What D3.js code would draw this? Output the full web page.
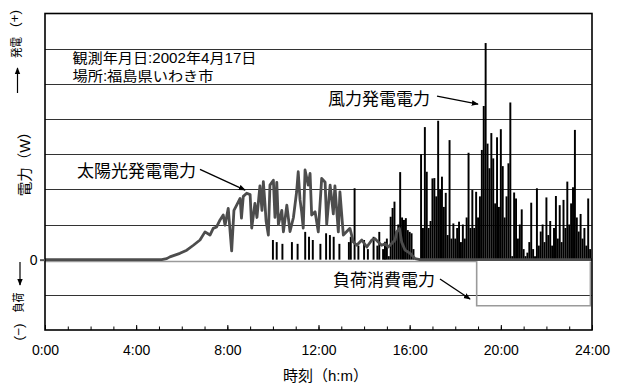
<!DOCTYPE html>
<meta charset="utf-8">
<style>
body { margin: 0; background: #fff; }
text { font-family: "Liberation Sans", "Noto Sans CJK JP", sans-serif; fill: #000; }
</style>
<body>
<script src="https://cdn.jsdelivr.net/npm/d3@7"></script>
<script>

// solar power: [hour, value in grid units]
var solar = [
  [0,0],[5.12,0],[5.34,0.03],[5.48,0.08],[5.92,0.18],[6.22,0.27],[6.51,0.41],[6.80,0.56],
  [7.02,0.79],[7.24,0.7],[7.38,0.89],[7.53,0.93],[7.68,1.13],[7.82,1.27],[7.90,0.98],[8.04,1.46],
  [8.19,0.25],[8.29,1.4],[8.41,1.55],[8.56,1.74],[8.62,1.18],[8.70,1.8],[8.85,1.89],[9.00,1.85],
  [9.07,0.9],[9.21,1.6],[9.30,1.2],[9.43,2.1],[9.52,1.4],[9.58,2.22],[9.65,1.6],[9.70,1.1],
  [9.80,0.7],[9.87,2.12],[10.02,2.26],[10.09,1.2],[10.17,2.2],[10.24,1.0],[10.39,1.4],[10.46,0.79],
  [10.61,1.55],[10.75,0.8],[10.90,1.2],[11.04,1.93],[11.11,2.5],[11.19,1.7],[11.26,1.36],[11.33,0.9],
  [11.41,2.55],[11.55,2.12],[11.63,2.45],[11.70,1.27],[11.85,1.36],[11.99,0.79],[12.14,2.31],[12.29,2.2],
  [12.36,1.0],[12.51,2.12],[12.65,1.3],[12.72,2.1],[12.87,0.79],[12.94,1.93],[13.09,0.7],[13.24,0.8],
  [13.38,0.89],[13.53,0.5],[13.68,0.41],[13.90,0.56],[14.12,0.36],[14.34,0.56],[14.48,0.6],[14.62,0.5],
  [14.77,0.41],[14.92,0.45],[15.06,0.36],[15.21,0.46],[15.36,0.56],[15.43,0.79],[15.55,0.89],[15.65,0.5],
  [15.80,0.27],[16.02,0.18],[16.24,0.03],[16.45,0],[24,0]
];

// wind power, one value every 5 minutes from 10:00 to 24:00
var windStart = 10;
var windStepMin = 5;
var wind = [
  0.56,0,0.5,0,0,0.45,0,0,0,0,0.5,0,
  0,0.45,0,0,0,0.79,0,0.65,0,0.56,0,0,
  0,0.45,0,0,0.75,0,0.7,0,0.65,0,0,0.45,
  0,0,0,0,0.5,0.65,0,2.03,0,0.4,0,0,
  0.56,0,0.3,0,0,0.65,0,0.4,0.79,0,0.3,0.51,
  0.6,0.1,1.22,1.47,1.65,0.8,1.0,2.49,1.2,1.13,1.18,0.84,
  0.79,0.75,0.3,0,0,0,3.0,0.9,3.77,2.5,0.9,1.1,
  2.31,2.32,1.8,3.95,2.0,2.36,1.5,1.9,0.7,3.4,0.6,1.03,
  0.6,0.9,1.08,0.5,1.0,0.6,1.2,3.04,0.9,1.98,0.9,1.93,
  1.2,1.8,3.12,4.37,6.16,3.3,2.6,3.6,2.88,1.6,3.48,1.5,
  3.71,2.66,1.2,1.8,2.74,4.47,0.1,1.91,1.74,0.6,1.0,1.43,
  0.3,0.1,0.2,0.5,1.62,0.3,0.1,2.03,0.4,0.8,1.0,0.5,
  1.77,0.7,1.1,0.4,0.9,1.81,0.6,1.55,0.5,1.7,0.9,2.22,
  1.0,1.6,2.06,3.69,1.2,0.8,1.3,0.6,0.9,0.4,1.74,0.3,
  0
];

// load consumption
var loadTime  = [0, 18.94, 18.94, 23.93, 23.93];
var loadPower = [-0.05, -0.05, -1.31, -1.31, -0.05];

var hourTicks  = [0,1,2,3,4,5,6,7,8,9,10,11,12,13,14,15,16,17,18,19,20,21,22,23,24];
var majorTicks = [0,4,8,12,16,20,24];
var tickLabels = ["0:00","4:00","8:00","12:00","16:00","20:00","24:00"];
var gridValues = [-1,1,2,3,4,5,6];

var width = 627, height = 383;
var margin = {left: 45, top: 13.5, right: 35, bottom: 53};

var x = d3.scaleLinear().domain([0, 24]).range([margin.left, width - margin.right]);
var y = d3.scaleLinear().domain([-2, 7]).range([height - margin.bottom, margin.top]);

var svg = d3.select("body").append("svg")
    .attr("width", width)
    .attr("height", height)
    .style("background", "#fff");

var defs = svg.append("defs");
defs.append("marker")
    .attr("id", "head")
    .attr("viewBox", "0 0 10 10")
    .attr("refX", 9).attr("refY", 5)
    .attr("markerWidth", 7).attr("markerHeight", 7)
    .attr("markerUnits", "userSpaceOnUse")
    .attr("orient", "auto")
  .append("path")
    .attr("d", "M0,1L10,5L0,9Z")
    .attr("fill", "#000");

// grid
svg.append("g").selectAll("line")
    .data(gridValues)
  .enter().append("line")
    .attr("x1", x(0)).attr("x2", x(24))
    .attr("y1", function(d) { return Math.round(y(d)) + 0.5; })
    .attr("y2", function(d) { return Math.round(y(d)) + 0.5; })
    .attr("stroke", "#333")
    .attr("stroke-width", 1);

// wind: vertical strokes, one per sample
var windPts = wind.map(function(v, i) { return [windStart + i * windStepMin / 60, v]; });
svg.append("g").selectAll("line")
    .data(windPts.filter(function(d) { return d[1] > 0; }))
  .enter().append("line")
    .attr("x1", function(d) { return x(d[0]); })
    .attr("x2", function(d) { return x(d[0]); })
    .attr("y1", y(0))
    .attr("y2", function(d) { return y(d[1]); })
    .attr("stroke", "#000")
    .attr("stroke-width", 1.95);

// load
svg.append("path")
    .datum(loadTime.map(function(t, i) { return [t, loadPower[i]]; }))
    .attr("d", d3.line()
        .x(function(d) { return x(d[0]); })
        .y(function(d) { return y(d[1]); }))
    .attr("fill", "none")
    .attr("stroke", "#9a9a9a")
    .attr("stroke-width", 1.6);

// solar
svg.append("path")
    .datum(solar)
    .attr("d", d3.line()
        .x(function(d) { return x(d[0]); })
        .y(function(d) { return y(d[1]); }))
    .attr("fill", "none")
    .attr("stroke", "#4d4d4d")
    .attr("stroke-width", 2.8)
    .attr("stroke-linejoin", "round");

// frame
svg.append("rect")
    .attr("x", x(0)).attr("y", y(7))
    .attr("width", x(24) - x(0))
    .attr("height", y(-2) - y(7))
    .attr("fill", "none")
    .attr("stroke", "#000")
    .attr("stroke-width", 1.6);

// x axis
var gx = svg.append("g")
    .attr("transform", "translate(0," + y(-2) + ")");
gx.append("g")
    .call(d3.axisBottom(x).tickValues(hourTicks).tickSize(-3.5).tickFormat(""))
    .call(function(g) { g.select(".domain").remove(); });
gx.append("g")
    .call(d3.axisBottom(x).tickValues(majorTicks).tickSize(-5).tickPadding(15)
        .tickFormat(function(d, i) { return tickLabels[i]; }))
    .attr("font-size", 14)
    .call(function(g) { g.select(".domain").remove(); });
gx.selectAll("line").attr("stroke", "#000");

// zero tick
var gy = svg.append("g")
    .attr("transform", "translate(" + x(0) + ",0)")
    .call(d3.axisLeft(y).tickValues([0]).tickSize(5).tickPadding(2.5))
    .attr("font-size", 14)
    .call(function(g) { g.select(".domain").remove(); });
gy.selectAll("line").attr("stroke", "#555").attr("stroke-width", 2);

// x title
svg.append("text")
    .attr("x", 283).attr("y", 381)
    .attr("font-size", 15)
    .text("時刻（h:m）");

// y title pieces (rotated)
function vtext(str, cx, cy, size, len) {
  var t = svg.append("text")
      .attr("transform", "translate(" + cx + "," + cy + ") rotate(-90)")
      .attr("text-anchor", "middle")
      .attr("dominant-baseline", "central")
      .attr("font-size", size)
      .text(str);
  if (len) t.attr("textLength", len).attr("lengthAdjust", "spacingAndGlyphs");
}
vtext("(+)", 14.5, 18.5, 12.5, 17);
vtext("発電", 16.5, 47.5, 12.5, 21);
vtext("電力（W）", 25, 160.5, 14.5);
vtext("負荷", 18.5, 302.5, 12.5, 20);
vtext("(−)", 18.5, 332, 12.5, 17);

svg.append("line")
    .attr("x1", 17.5).attr("y1", 93).attr("x2", 17.5).attr("y2", 68)
    .attr("stroke", "#000").attr("stroke-width", 1.2)
    .attr("marker-end", "url(#head)");
svg.append("line")
    .attr("x1", 20).attr("y1", 262).attr("x2", 20).attr("y2", 285)
    .attr("stroke", "#000").attr("stroke-width", 1.2)
    .attr("marker-end", "url(#head)");

// notes
svg.append("text").attr("x", 72.5).attr("y", 63).attr("font-size", 14)
    .attr("textLength", 184).attr("lengthAdjust", "spacingAndGlyphs")
    .text("観測年月日:2002年4月17日");
svg.append("text").attr("x", 72.5).attr("y", 81).attr("font-size", 14)
    .attr("textLength", 141).attr("lengthAdjust", "spacingAndGlyphs")
    .text("場所:福島県いわき市");

// series labels with arrows (arrow ends in data units)
var labels = [
  {text: "太陽光発電電力", tx: 77,  ty: 176.5, from: [6.80, 2.57], to: [8.78, 1.98]},
  {text: "風力発電電力",   tx: 328, ty: 104.5, from: [17.2, 4.65], to: [19.0, 4.42]},
  {text: "負荷消費電力",   tx: 333, ty: 286,   from: [17.33, -0.55], to: [18.65, -1.12]}
];
labels.forEach(function(l) {
  svg.append("text").attr("x", l.tx).attr("y", l.ty)
      .attr("font-size", 17)
      .text(l.text);
  svg.append("line")
      .attr("x1", x(l.from[0])).attr("y1", y(l.from[1]))
      .attr("x2", x(l.to[0])).attr("y2", y(l.to[1]))
      .attr("stroke", "#000").attr("stroke-width", 1.3)
      .attr("marker-end", "url(#head)");
});

</script>
